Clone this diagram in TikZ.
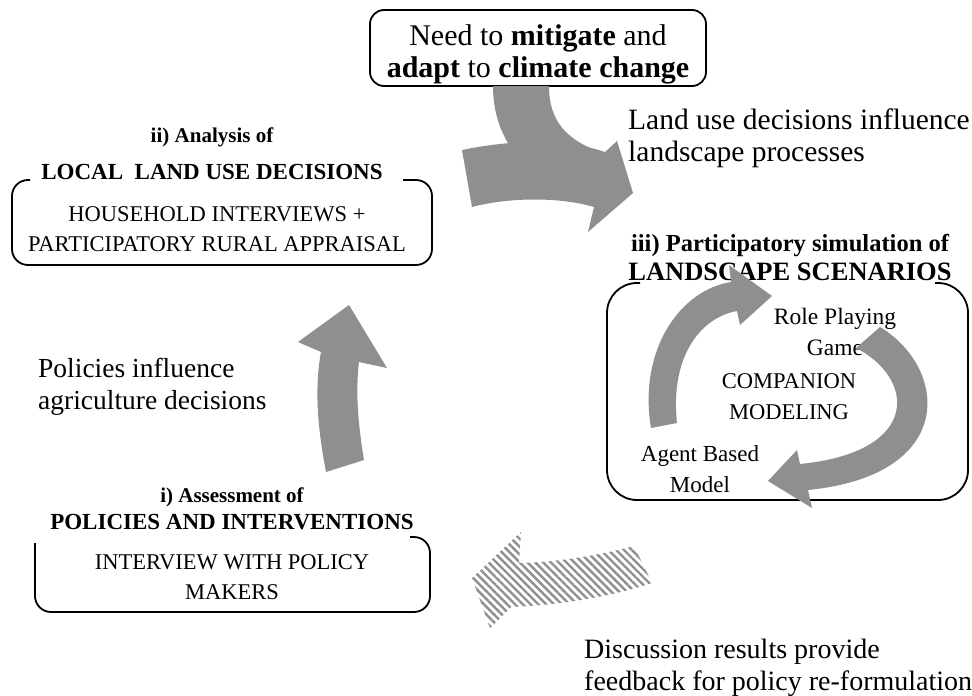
\documentclass[tikz,border=0pt]{standalone}
\usepackage{fontspec}
\setmainfont{Liberation Serif}
\usetikzlibrary{patterns.meta}
\definecolor{arrowgray}{RGB}{143,143,143}
\begin{document}
\begin{tikzpicture}[x=1pt,y=-1pt,
  frame/.style={draw=black, line width=1.8pt, inner sep=0pt},
  openframe/.style={draw=black, line width=1.8pt},
  bigtext/.style={font=\fontsize{30}{32}\selectfont, align=center, inner sep=0pt},
  freetext/.style={font=\fontsize{28}{32}\selectfont, align=left, anchor=west, inner sep=0pt},
  bodytext/.style={font=\fontsize{22.5}{30}\selectfont, align=center, inner sep=0pt},
  cmtext/.style={font=\fontsize{23.5}{31}\selectfont, align=center, inner sep=0pt},
  heading/.style={font=\bfseries\fontsize{23}{27}\selectfont, align=center, inner sep=0pt},
  subhead/.style={font=\bfseries\fontsize{21}{25}\selectfont, inner sep=0pt},
  fatarrow/.style={fill=arrowgray},
]
\useasboundingbox (0,0) rectangle (972,696);

% ---- top box ----
\node[frame, rounded corners=14pt, minimum width=336pt, minimum height=76pt] (need) at (538,48) {};

% ---- boxes whose top edge is left open for the heading ----
\draw[openframe, rounded corners=16pt] (30,180) -- (12,180) -- (12,265) -- (432,265) -- (432,180) -- (403,180);
\draw[openframe, rounded corners=30pt] (640,283) -- (607,283) -- (607,500) -- (968,500) -- (968,283) -- (935,283);
\draw[openframe, rounded corners=16pt] (35,543) -- (35,612) -- (430,612) -- (430,537) -- (410,537);

% ---- box headings ----
\node[heading] (lhead) at (212,172) {LOCAL\ \ LAND USE DECISIONS};
\node[subhead] (lsub) at (212,137) {ii) Analysis of};
\node[heading, font=\bfseries\fontsize{26.5}{30}\selectfont] (rhead) at (790,272) {LANDSCAPE SCENARIOS};
\node[subhead, font=\bfseries\fontsize{24.5}{28}\selectfont] (rsub) at (790,246) {iii) Participatory simulation of};
\node[heading] (bhead) at (232,522) {POLICIES AND INTERVENTIONS};
\node[subhead] (bsub) at (232,497) {i) Assessment of};

% ---- box contents ----
\node[bigtext] (needtxt) at (538,54) {Need to \textbf{mitigate} and\\ \textbf{adapt} to \textbf{climate change}};
\node[bodytext] (ltxt) at (217,229) {HOUSEHOLD INTERVIEWS +\\PARTICIPATORY RURAL APPRAISAL};
\node[bodytext] (btxt) at (232,577) {INTERVIEW WITH POLICY\\MAKERS};
\node[cmtext, font=\fontsize{22.5}{31}\selectfont] (cm) at (789,397) {COMPANION\\MODELING};
\node[cmtext] (rpg) at (835,332) {Role Playing\\Game};
\node[cmtext, font=\fontsize{23}{31}\selectfont] (abm) at (700,469) {Agent Based\\Model};

% ---- free labels ----
\node[freetext, font=\fontsize{29.5}{32}\selectfont] (landtxt) at (628,138) {Land use decisions influence\\landscape processes};
\node[freetext, font=\fontsize{27.5}{32}\selectfont] (poltxt) at (38,387) {Policies influence\\agriculture decisions};
\node[freetext] (disctxt) at (584,668) {Discussion results provide\\feedback for policy re-formulation};

% ---- large curved arrow from the top box ----
\fill[fatarrow] (493,86) -- (549,86) .. controls (549,120) and (565,140) .. (603,153)
  -- (560,185) .. controls (515,168) and (493,130) .. (493,86) -- cycle;
\fill[fatarrow] (462,150) .. controls (520,138) and (570,140) .. (605,152) -- (617,141)
  -- (633,193) -- (588,232) -- (594,207) .. controls (560,197) and (510,197) .. (472,207) -- cycle;

% ---- upward arrow (policies -> decisions) ----
\fill[fatarrow] (326,472) .. controls (318,430) and (314,390) .. (321,352) -- (298,342)
  -- (349,305) -- (387,368) -- (359,362) .. controls (355,395) and (359,430) .. (364,460) -- cycle;

% ---- companion modeling cycle ----
\fill[fatarrow] (651,428) .. controls (638,350) and (680,290) .. (731,282) -- (729,265)
  -- (772,296) -- (740,325) -- (737,311) .. controls (698,318) and (670,360) .. (677,423) -- cycle;
\fill[fatarrow] (880,327) .. controls (948,368) and (958,475) .. (808,490) -- (812,508)
  -- (768,481) -- (797,450) -- (800,464) .. controls (922,452) and (915,378) .. (856,348) -- cycle;

% ---- hatched feedback arrow ----
\path[pattern={Lines[angle=-45,distance=5.5pt,line width=2.4pt]}, pattern color=arrowgray]
  (634,546) .. controls (600,555) and (560,562) .. (519,563) -- (521,532)
  -- (472,578) -- (490,628) -- (511,607) .. controls (560,605) and (610,597) .. (652,583) -- cycle;
\end{tikzpicture}
\end{document}
